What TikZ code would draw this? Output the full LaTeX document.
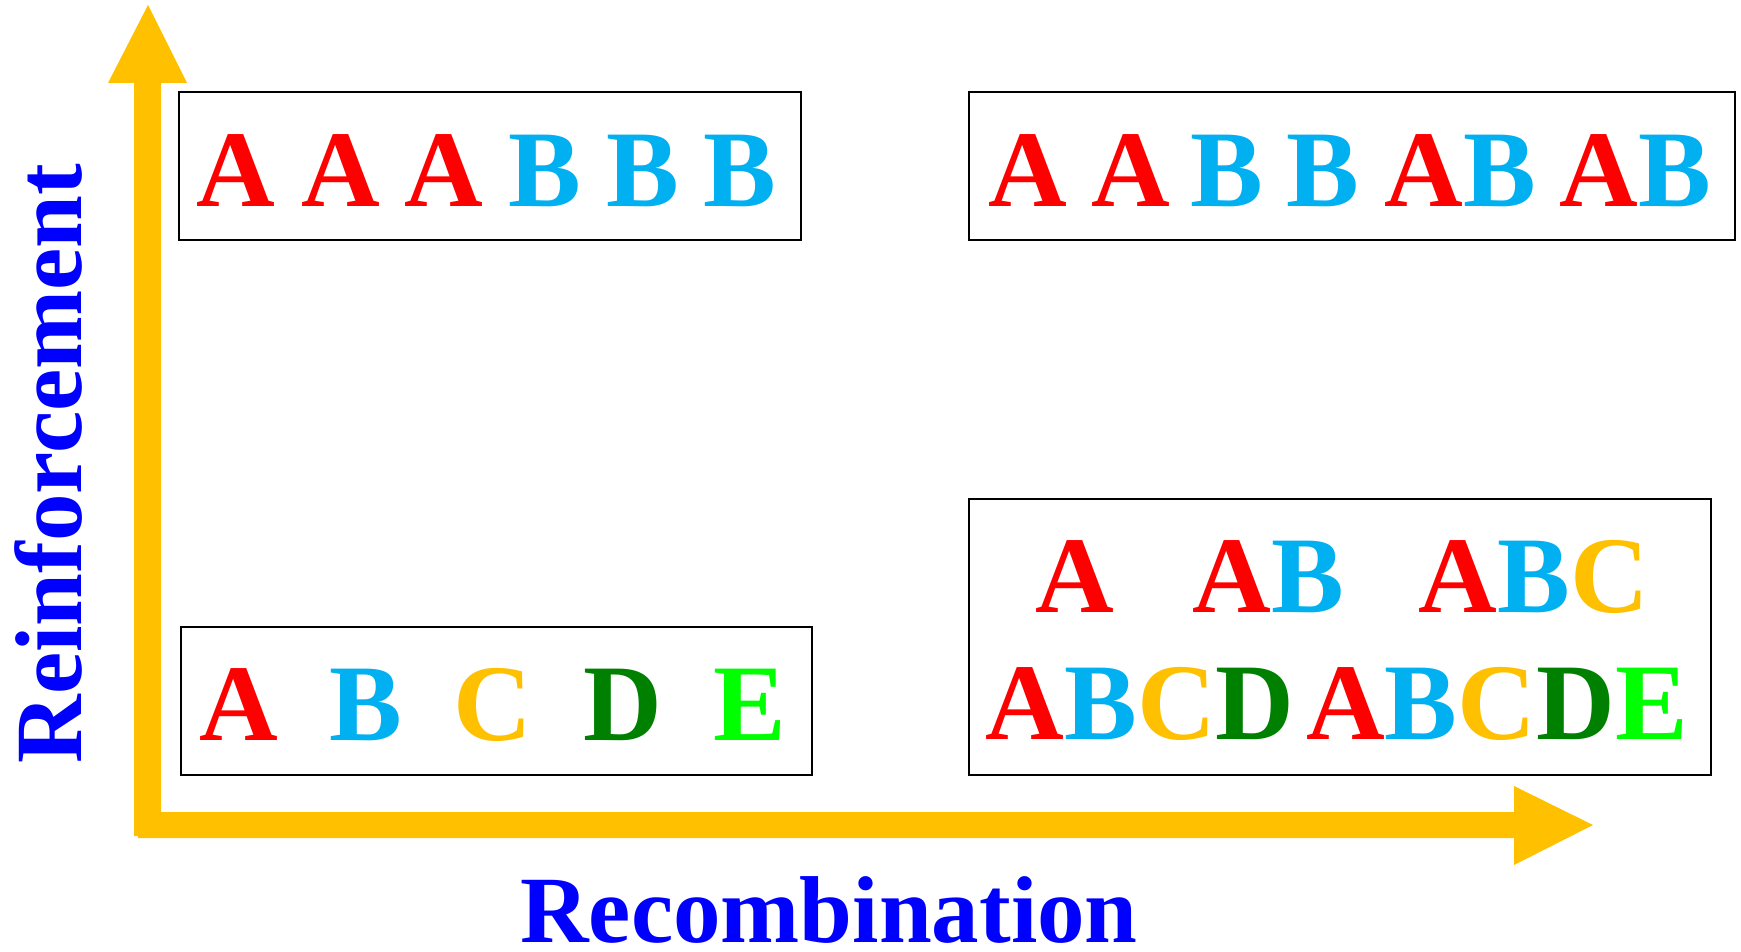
\documentclass[tikz,border=0pt]{standalone}
\usepackage{fontspec}
\setmainfont{Liberation Serif}
\definecolor{axgold}{HTML}{FFC000}
\definecolor{lred}{HTML}{FF0000}
\definecolor{lblue}{HTML}{00B0F0}
\definecolor{lorange}{HTML}{FFC000}
\definecolor{lgreen}{HTML}{008000}
\definecolor{llime}{HTML}{00FF00}
\definecolor{labblue}{HTML}{0000FF}
\newcommand{\lettA}{{\color{lred}A}}
\newcommand{\lettB}{{\color{lblue}B}}
\newcommand{\lettC}{{\color{lorange}C}}
\newcommand{\lettD}{{\color{lgreen}D}}
\newcommand{\lettE}{{\color{llime}E}}
\begin{document}
\begin{tikzpicture}[x=1pt,y=-1pt,
  box/.style={draw=black,line width=2pt},
  lt/.style={inner sep=0pt,anchor=base,font=\fontsize{109}{120}\selectfont\bfseries},
  axlabel/.style={inner sep=0pt,anchor=base,text=labblue,font=\fontsize{95}{105}\selectfont\bfseries}]
\useasboundingbox (0,0) rectangle (1741,952);
% axes
\fill[axgold] (134,836) -- (134,83) -- (108,83) -- (148,5) -- (187,83) -- (161,83) -- (161,812)
  -- (1514,812) -- (1514,786) -- (1593,825) -- (1514,865) -- (1514,838) -- (138,838) -- (138,836) -- cycle;
% boxes
\draw[box] (179,92) rectangle (801,240);
\draw[box] (969,92) rectangle (1735,240);
\draw[box] (969,499) rectangle (1711,775);
\draw[box] (181,627) rectangle (812,775);
% box 1
\node[lt] (p1) at (236,206.5) {\lettA};
\node[lt] (p2) at (341,206.5) {\lettA};
\node[lt] (p3) at (444,206.5) {\lettA};
\node[lt] (p4) at (545,206.5) {\lettB};
\node[lt] (p5) at (643,206.5) {\lettB};
\node[lt] (p6) at (740,206.5) {\lettB};
% box 2
\node[lt] (q1) at (1028,206.5) {\lettA};
\node[lt] (q2) at (1131,206.5) {\lettA};
\node[lt] (q3) at (1227,206.5) {\lettB};
\node[lt] (q4) at (1323,206.5) {\lettB};
\node[lt] (q5) at (1460,206.5) {\lettA\lettB};
\node[lt] (q6) at (1635,206.5) {\lettA\lettB};
% box 3
\node[lt] (r1) at (1075,612) {\lettA};
\node[lt] (r2) at (1268,612) {\lettA\lettB};
\node[lt] (r3) at (1534,612) {\lettA\lettB\lettC};
\node[lt] (r4) at (1140,739.5) {\lettA\lettB\lettC\lettD};
\node[lt] (r5) at (1497,739.5) {\lettA\lettB\lettC\lettD\lettE};
% box 4
\node[lt] (s1) at (239,740) {\lettA};
\node[lt] (s2) at (366,740) {\lettB};
\node[lt] (s3) at (493,740) {\lettC};
\node[lt] (s4) at (623,740) {\lettD};
\node[lt] (s5) at (750,740) {\lettE};
% axis labels
\node[axlabel,rotate=90] (ylab) at (81,463.5) {Reinforcement};
\node[axlabel] (xlab) at (829,942) {Recombination};
\end{tikzpicture}
\end{document}
